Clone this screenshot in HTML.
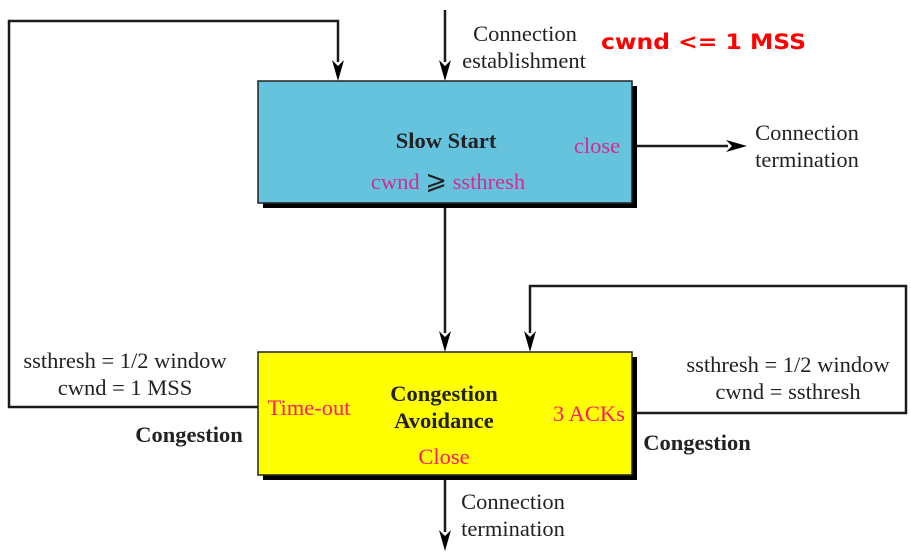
<!DOCTYPE html>
<html><head><meta charset="utf-8"><style>html,body{margin:0;padding:0;background:#fff}svg{display:block}</style></head>
<body>
<svg width="911" height="554" viewBox="0 0 911 554" xmlns="http://www.w3.org/2000/svg">
<g fill="none" stroke="#1a1a1a" stroke-width="2.5">
<polyline points="258,407 9,407 9,21 338,21 338,62"/>
<line x1="445" y1="10" x2="445" y2="62"/>
<line x1="632" y1="146" x2="728" y2="146"/>
<line x1="445" y1="203" x2="445" y2="333"/>
<polyline points="632,413 906,413 906,286 530,286 530,333"/>
<line x1="445" y1="475" x2="445" y2="532"/>
</g>
<g fill="#000">
<path d="M332,60 L338,66 L344,60 L338,81 Z"/>
<path d="M439,60 L445,66 L451,60 L445,81 Z"/>
<path d="M726,140 L732,146 L726,152 L747,146 Z"/>
<path d="M439,331 L445,337 L451,331 L445,352 Z"/>
<path d="M524,331 L530,337 L536,331 L530,352 Z"/>
<path d="M439,530 L445,536 L451,530 L445,551 Z"/>
</g>
<rect x="263" y="86" width="374" height="122" fill="#000"/>
<rect x="258" y="81" width="374" height="122" fill="#66c3de" stroke="#222" stroke-width="1.5"/>
<rect x="263" y="357" width="374" height="123" fill="#000"/>
<rect x="258" y="352" width="374" height="123" fill="#ffff00" stroke="#222" stroke-width="1.5"/>
<g font-family="Liberation Serif, serif" font-size="22.5" fill="#222">
<text x="525" y="41" text-anchor="middle">Connection</text>
<text x="524" y="68" text-anchor="middle">establishment</text>
<text x="807" y="140" text-anchor="middle">Connection</text>
<text x="807" y="167" text-anchor="middle">termination</text>
<text x="513" y="509" text-anchor="middle">Connection</text>
<text x="513" y="536" text-anchor="middle">termination</text>
<text x="125" y="368" text-anchor="middle">ssthresh = 1/2 window</text>
<text x="125" y="395" text-anchor="middle">cwnd = 1 MSS</text>
<text x="788" y="372" text-anchor="middle">ssthresh = 1/2 window</text>
<text x="788" y="399" text-anchor="middle">cwnd = ssthresh</text>
<text x="446" y="148" text-anchor="middle" font-weight="bold">Slow Start</text>
<text x="444" y="401" text-anchor="middle" font-weight="bold">Congestion</text>
<text x="444" y="428" text-anchor="middle" font-weight="bold">Avoidance</text>
<text x="189" y="442" text-anchor="middle" font-weight="bold">Congestion</text>
<text x="697" y="450" text-anchor="middle" font-weight="bold">Congestion</text>
</g>
<g font-family="Liberation Serif, serif" font-size="22.5" fill="#d9288f">
<text x="597" y="153" text-anchor="middle">close</text>
<text x="448" y="189" text-anchor="middle">cwnd <tspan fill="#222" font-size="26">⩾</tspan> ssthresh</text>
</g>
<g font-family="Liberation Serif, serif" font-size="22.5" fill="#ff1a6e">
<text x="309" y="415" text-anchor="middle">Time-out</text>
<text x="589" y="421" text-anchor="middle">3 ACKs</text>
<text x="444" y="464" text-anchor="middle">Close</text>
</g>
<text x="601" y="49" font-family="DejaVu Sans, sans-serif" font-weight="bold" font-size="21" fill="#ff0000" textLength="205" lengthAdjust="spacingAndGlyphs">cwnd &lt;= 1 MSS</text>
</svg>
</body></html>
